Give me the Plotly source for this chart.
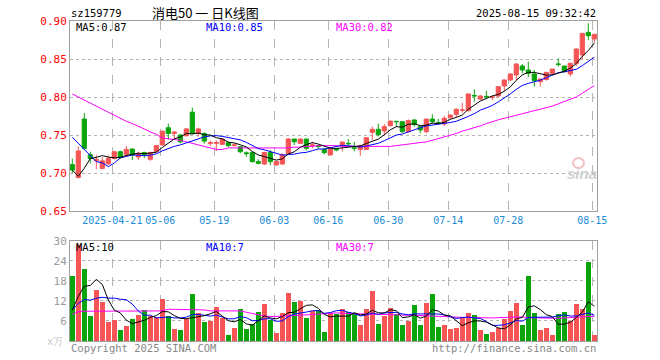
import pandas as pd
import plotly.graph_objects as go

# ---------------- data ----------------
holidays = ["2025-05-01", "2025-05-02", "2025-05-05", "2025-06-02"]
dates = [d.strftime("%Y-%m-%d") for d in pd.bdate_range("2025-04-10", "2025-08-15")
         if d.strftime("%Y-%m-%d") not in holidays]

open_ = [0.711, 0.694, 0.771, 0.724, 0.716, 0.706, 0.712, 0.719, 0.728, 0.7245,
         0.7315, 0.721, 0.727, 0.718, 0.728, 0.737, 0.7596, 0.752, 0.750, 0.749,
         0.780, 0.752, 0.752, 0.739, 0.739, 0.7377, 0.740, 0.736, 0.7346, 0.7265,
         0.727, 0.7149, 0.7118, 0.727, 0.7105, 0.7118, 0.726, 0.7447, 0.739, 0.7447,
         0.736, 0.736, 0.731, 0.7237, 0.7315, 0.7364, 0.739, 0.7328, 0.731, 0.731,
         0.7535, 0.7575, 0.7553, 0.7623, 0.768, 0.7675, 0.7544, 0.7697, 0.761, 0.7544,
         0.771, 0.7665, 0.7645, 0.7732, 0.7772, 0.7825, 0.782, 0.802, 0.7974, 0.8008,
         0.7996, 0.8013, 0.8145, 0.8224, 0.829, 0.8408, 0.8355, 0.8303, 0.8202, 0.823,
         0.8311, 0.8434, 0.8408, 0.8303, 0.8443, 0.8553, 0.8851, 0.8763]
high = [0.719, 0.735, 0.779, 0.728, 0.7236, 0.721, 0.723, 0.729, 0.7295, 0.7355,
        0.732, 0.728, 0.728, 0.728, 0.737, 0.756, 0.765, 0.755, 0.751, 0.759,
        0.786, 0.7596, 0.7535, 0.7425, 0.743, 0.7456, 0.741, 0.739, 0.7355, 0.7285,
        0.7283, 0.718, 0.728, 0.730, 0.7153, 0.726, 0.7456, 0.7447, 0.7456, 0.7447,
        0.7412, 0.737, 0.733, 0.733, 0.7334, 0.7408, 0.7447, 0.7408, 0.737, 0.7465,
        0.761, 0.765, 0.7645, 0.7684, 0.7684, 0.7675, 0.7706, 0.771, 0.7618, 0.771,
        0.7772, 0.771, 0.775, 0.7772, 0.785, 0.7925, 0.804, 0.810, 0.8026, 0.8083,
        0.8004, 0.8136, 0.8232, 0.8311, 0.8443, 0.8434, 0.8465, 0.8355, 0.8237, 0.8325,
        0.8368, 0.851, 0.8408, 0.8452, 0.864, 0.8838, 0.897, 0.8825]
low = [0.700, 0.693, 0.731, 0.7127, 0.705, 0.705, 0.711, 0.718, 0.719, 0.7215,
       0.717, 0.717, 0.720, 0.716, 0.727, 0.736, 0.744, 0.7434, 0.739, 0.748,
       0.7515, 0.7478, 0.7386, 0.7355, 0.729, 0.737, 0.734, 0.735, 0.726, 0.7215,
       0.7136, 0.7114, 0.7105, 0.7105, 0.7105, 0.711, 0.725, 0.737, 0.739, 0.7294,
       0.7325, 0.7316, 0.7246, 0.7237, 0.7285, 0.7285, 0.736, 0.7285, 0.7228, 0.7307,
       0.7434, 0.748, 0.7505, 0.761, 0.761, 0.753, 0.7544, 0.761, 0.7522, 0.7522,
       0.7654, 0.7632, 0.762, 0.771, 0.7733, 0.7794, 0.781, 0.7939, 0.796, 0.797,
       0.796, 0.800, 0.8079, 0.821, 0.8224, 0.8311, 0.826, 0.8136, 0.8136, 0.8215,
       0.829, 0.840, 0.8325, 0.8268, 0.8408, 0.8496, 0.875, 0.8715]
close = [0.704, 0.729, 0.7325, 0.719, 0.718, 0.716, 0.719, 0.728, 0.7215, 0.731,
         0.7237, 0.726, 0.724, 0.727, 0.736, 0.755, 0.752, 0.754, 0.741, 0.758,
         0.752, 0.758, 0.742, 0.740, 0.740, 0.7447, 0.736, 0.737, 0.728, 0.7255,
         0.715, 0.7127, 0.727, 0.715, 0.715, 0.7237, 0.7447, 0.7412, 0.7447, 0.7325,
         0.737, 0.735, 0.7268, 0.7316, 0.7305, 0.7408, 0.7385, 0.7325, 0.736, 0.7465,
         0.7575, 0.7505, 0.761, 0.7684, 0.7675, 0.7544, 0.769, 0.764, 0.7566, 0.771,
         0.7675, 0.7662, 0.772, 0.7763, 0.7838, 0.783, 0.804, 0.8015, 0.8013, 0.8004,
         0.800, 0.8136, 0.8224, 0.8303, 0.8434, 0.8355, 0.8311, 0.8215, 0.8237, 0.8325,
         0.8368, 0.843, 0.8333, 0.8443, 0.8632, 0.8838, 0.8807, 0.8825]
# closes of the 9 sessions before the first visible one (implied by the MA lines)
prior_close = [0.809, 0.8125, 0.799, 0.798, 0.7315, 0.770, 0.680, 0.655, 0.711]

volume = [19.4, 28.7, 21.5, 7.4, 15.2, 11.7, 5.7, 6.2, 3.2, 4.4,
          6.5, 7.7, 9.2, 7.4, 7.2, 12.5, 7.4, 3.5, 3.2, 6.7,
          14.0, 8.4, 5.6, 6.0, 10.1, 7.0, 1.7, 3.9, 9.5, 3.5,
          5.0, 8.7, 11.0, 6.2, 2.3, 8.4, 14.4, 11.7, 12.0, 6.8,
          9.1, 9.2, 2.7, 8.3, 8.0, 9.5, 8.6, 8.0, 4.8, 9.5,
          15.0, 5.0, 7.5, 9.8, 8.0, 4.7, 6.0, 10.7, 4.7, 11.3,
          14.0, 4.1, 4.7, 3.5, 3.8, 6.9, 8.3, 7.7, 3.2, 2.2,
          2.6, 3.8, 6.5, 8.9, 11.3, 4.7, 19.4, 8.3, 3.2, 3.8,
          1.7, 8.0, 8.6, 5.9, 11.0, 9.6, 23.6, 1.8]
prior_volume = [9.5, 9.5, 9.5, 9.3, 9.0, 8.0, 6.5, 6.3, 6.0]

ma30 = [0.804, 0.800, 0.796, 0.792, 0.788, 0.784, 0.780, 0.775, 0.771, 0.768,
        0.765, 0.762, 0.758, 0.754, 0.751, 0.746, 0.745, 0.744, 0.743, 0.741,
        0.739, 0.737, 0.735, 0.733, 0.731, 0.731, 0.733, 0.733, 0.733, 0.733,
        0.7325, 0.7325, 0.7325, 0.7325, 0.7325, 0.7325, 0.733, 0.734, 0.734, 0.735,
        0.735, 0.736, 0.736, 0.736, 0.736, 0.735, 0.735, 0.735, 0.735, 0.735,
        0.735, 0.735, 0.735, 0.735, 0.736, 0.737, 0.738, 0.739, 0.740, 0.741,
        0.743, 0.745, 0.747, 0.749, 0.752, 0.755, 0.757, 0.760, 0.762, 0.765,
        0.768, 0.770, 0.772, 0.774, 0.776, 0.778, 0.779, 0.781, 0.783, 0.785,
        0.788, 0.791, 0.794, 0.796, 0.800, 0.805, 0.810, 0.815]
vol_ma30 = [8.0, 8.8, 8.9, 8.9, 8.9, 9.0, 9.0, 9.0, 9.0, 9.0,
            9.0, 9.0, 9.0, 9.0, 9.0, 9.0, 9.5, 9.5, 9.5, 9.5,
            9.5, 9.5, 9.3, 9.0, 9.0, 9.0, 9.0, 9.0, 9.0, 8.6,
            8.2, 7.8, 7.5, 7.3, 7.3, 7.3, 7.5, 7.6, 7.7, 7.8,
            8.0, 8.2, 8.3, 8.4, 8.4, 8.3, 8.2, 8.1, 8.0, 8.0,
            8.0, 8.0, 7.9, 7.9, 7.8, 7.8, 7.7, 7.7, 7.6, 7.6,
            7.5, 7.4, 7.3, 7.2, 7.1, 7.0, 7.0, 7.0, 6.9, 6.9,
            6.9, 7.0, 7.1, 7.2, 7.3, 7.2, 7.0, 6.9, 6.8, 6.8,
            6.8, 6.8, 6.9, 7.0, 7.2, 7.4, 7.5, 7.4]

tick_dates = ["2025-04-21", "2025-05-06", "2025-05-19", "2025-06-03", "2025-06-16",
              "2025-06-30", "2025-07-14", "2025-07-28", "2025-08-15"]
tick_labels = ["2025-04-21", "05-06", "05-19", "06-03", "06-16",
               "06-30", "07-14", "07-28", "08-15"]
price_ticks = [0.65, 0.70, 0.75, 0.80, 0.85, 0.90]
vol_ticks = [0, 6, 12, 18, 24, 30]

title_code = "sz159779"
title_name = "消电50 一 日K线图"
stamp = "2025-08-15 09:32:42"
price_ma_labels = ["MA5:0.87", "MA10:0.85", "MA30:0.82"]
vol_ma_labels = ["MA5:10", "MA10:7", "MA30:7"]

# ---------------- derived ----------------
n = len(close)
xs = list(range(n))
cs = pd.Series(prior_close + close)
ma5 = cs.rolling(5).mean().tolist()[len(prior_close):]
ma10 = cs.rolling(10).mean().tolist()[len(prior_close):]
vs = pd.Series(prior_volume + volume)
vma5 = vs.rolling(5).mean().tolist()[len(prior_volume):]
vma10 = vs.rolling(10).mean().tolist()[len(prior_volume):]

RED = "#f55555"
GREEN = "#0aa50a"
bar_colors = [RED if c >= o else GREEN for o, c in zip(open_, close)]
tick_pos = [dates.index(d) - 0.33 for d in tick_dates]

W, H = 660, 360
PL, PR, PT, PB = 70, 597, 21, 341          # plot box in screen pixels
L, R, T, B = PL, W - PR, PT, H - PB
PW, PH = W - L - R, H - T - B


def px(x):
    return (x - L) / PW


def py(y):
    return (H - B - y) / PH


fig = go.Figure()
fig.add_trace(go.Candlestick(
    x=xs, open=open_, high=high, low=low, close=close,
    increasing=dict(line=dict(color=RED, width=1), fillcolor=RED),
    decreasing=dict(line=dict(color=GREEN, width=1), fillcolor=GREEN),
    whiskerwidth=0, xaxis="x", yaxis="y", hoverinfo="skip"))
for vals, col in [(ma30, "#ff00ff"), (ma10, "#0000ff"), (ma5, "#000000")]:
    fig.add_trace(go.Scatter(x=xs, y=vals, mode="lines", line=dict(color=col, width=1),
                             xaxis="x", yaxis="y", hoverinfo="skip"))

fig.add_trace(go.Bar(x=xs, y=volume, marker=dict(color=bar_colors, line=dict(width=0)),
                     width=0.8, xaxis="x2", yaxis="y2", hoverinfo="skip"))
for vals, col in [(vol_ma30, "#ff00ff"), (vma10, "#0000ff"), (vma5, "#000000")]:
    fig.add_trace(go.Scatter(x=xs, y=vals, mode="lines", line=dict(color=col, width=1),
                             xaxis="x2", yaxis="y2", hoverinfo="skip"))

MONO = "DejaVu Sans Mono"
GRID = "#b4b4b4"
BORDER = "#a0a0a0"
x0 = 72.3  # screen x of first candle centre, 6px per session
xr = [(PL - x0) / 6, (PR - x0) / 6]
price_dom = [py(211), 1]
vol_dom = [0, py(240.7)]

fig.update_layout(
    width=W, height=H, margin=dict(l=L, r=R, t=T, b=B, autoexpand=False),
    paper_bgcolor="white", plot_bgcolor="white", showlegend=False, hovermode=False,
    boxgap=0.3, boxgroupgap=0, bargap=0,
    xaxis=dict(domain=[0, 1], range=xr, tickvals=tick_pos, ticktext=tick_labels,
               tickangle=0,
               showgrid=True, gridcolor=GRID, griddash="dash", gridwidth=1,
               showline=True, mirror=True, linecolor=BORDER, linewidth=1,
               ticks="", zeroline=False, rangeslider=dict(visible=False),
               tickfont=dict(family=MONO, size=10, color="#1a8cd8"), anchor="y"),
    yaxis=dict(domain=price_dom, range=[0.65, 0.90], tickvals=price_ticks,
               ticktext=["%.2f" % v for v in price_ticks],
               showgrid=True, gridcolor=GRID, griddash="dot", gridwidth=1,
               showline=True, mirror=True, linecolor=BORDER, linewidth=1,
               ticks="", zeroline=False,
               tickfont=dict(family=MONO, size=11, color="#ff0000"), anchor="x"),
    xaxis2=dict(domain=[0, 1], matches="x", tickvals=tick_pos, showticklabels=False,
                showgrid=True, gridcolor=GRID, griddash="dash", gridwidth=1,
                showline=True, mirror=True, linecolor=BORDER, linewidth=1,
                ticks="", zeroline=False, anchor="y2"),
    yaxis2=dict(domain=vol_dom, range=[0, 30], tickvals=vol_ticks,
                ticktext=[""] + [str(v) for v in vol_ticks[1:]],
                showgrid=True, gridcolor=GRID, griddash="dot", gridwidth=1,
                showline=True, mirror=True, linecolor=BORDER, linewidth=1,
                ticks="", zeroline=False,
                tickfont=dict(family=MONO, size=11, color="#9a9a9a"), anchor="x2"),
)

ann = []


def text(x, y, s, color="#000", size=10, anchor="left", family=MONO, **kw):
    ann.append(dict(x=px(x), y=py(y), xref="paper", yref="paper", text=s, showarrow=False,
                    xanchor=anchor, yanchor="middle",
                    font=dict(family=family, size=size, color=color), **kw))


text(69, 13, title_code, size=10.5)
text(205, 12, title_name, size=13, anchor="center", family="Noto Sans CJK SC")
text(598, 13, stamp, size=10.5, anchor="right")
ma_cols = ["#000000", "#0000ff", "#ff00ff"]
for lbl, xx, col in zip(price_ma_labels, [74, 204, 334], ma_cols):
    text(xx, 27, lbl, color=col, size=10.5)
for lbl, xx, col in zip(vol_ma_labels, [74, 204, 334], ma_cols):
    text(xx, 247, lbl, color=col, size=10.5)
text(65, 341, "x万", color="#c8c8c8", size=10, anchor="right")
text(69, 348, "Copyright 2025 SINA.COM", color="#888888", size=10.5)
text(598, 348, "http://finance.sina.com.cn", color="#888888", size=10.5, anchor="right")
text(582, 173, "<b><i>sina</i></b>", color="#cfcfcf", size=15, anchor="center",
     family="Arial")
fig.update_layout(annotations=ann)
# faint eye mark of the watermark
fig.add_shape(type="circle", xref="paper", yref="paper",
              x0=px(573), x1=px(584), y0=py(168), y1=py(158),
              line=dict(color="#f0c0c0", width=2), fillcolor="rgba(0,0,0,0)")

# remove the default 8px page margin so the 660x360 figure fills the window
fig.write_html("out.html", config={"displayModeBar": False, "staticPlot": True},
               post_script="document.body.style.margin='0px';")
